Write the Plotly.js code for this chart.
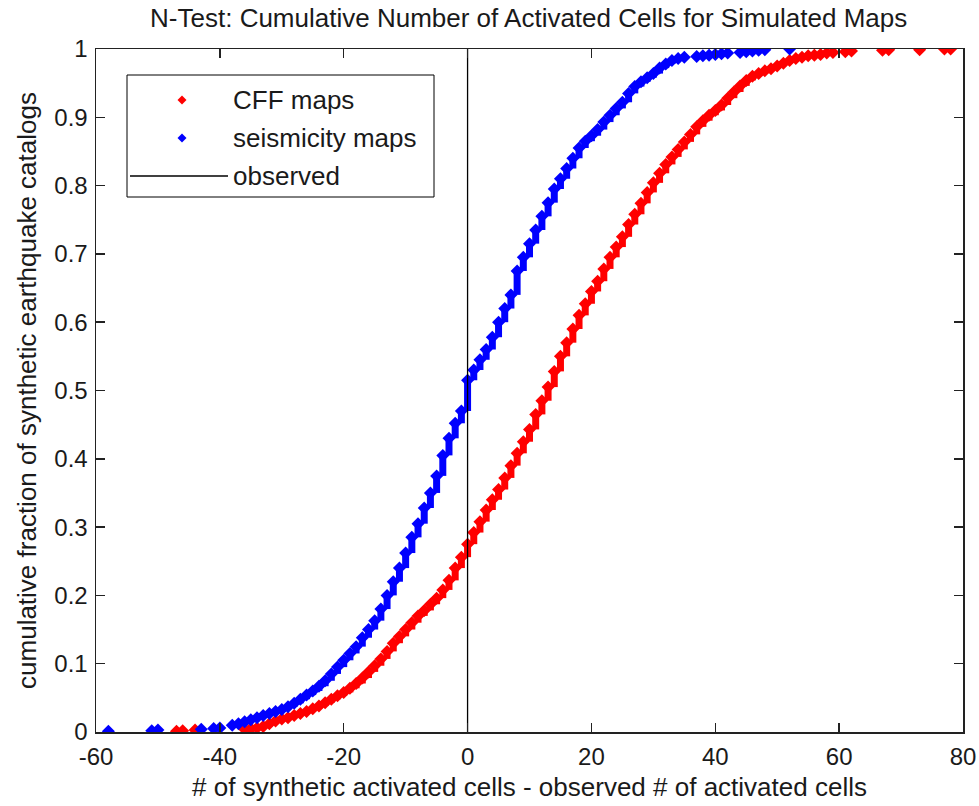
<!DOCTYPE html>
<html>
<head>
<meta charset="utf-8">
<script src="https://cdn.plot.ly/plotly-3.0.1.min.js"></script>
<style>html,body{margin:0;padding:0;background:#fff;}#chart{width:979px;height:806px;}</style>
</head>
<body>
<div id="chart"></div>
<script>
// x: (# synthetic activated cells - observed #); y: cumulative fraction reached at that x
const cffX = [-47,-46,-44,-36,-35,-34,-33,-32,-31,-30,-29,-28,-27,-26,-25,-24,-23,-22,-21,-20,-19,-18,-17,-16,-15,-14,-13,-12,-11,-10,-9,-8,-7,-6,-5,-4,-3,-2,-1,0,1,2,3,4,5,6,7,8,9,10,11,12,13,14,15,16,17,18,19,20,21,22,23,24,25,26,27,28,29,30,31,32,33,34,35,36,37,38,39,40,41,42,43,44,45,46,47,48,49,50,51,52,53,54,55,56,57,58,59,61,62,67,68,73,77,78];
const cffF = [0.001,0.002,0.003,0.004,0.005,0.006,0.008,0.012,0.016,0.019,0.021,0.024,0.027,0.030,0.034,0.038,0.043,0.048,0.053,0.058,0.064,0.071,0.079,0.088,0.097,0.107,0.118,0.130,0.140,0.150,0.160,0.170,0.178,0.187,0.196,0.208,0.222,0.240,0.256,0.275,0.292,0.308,0.325,0.340,0.355,0.372,0.390,0.408,0.425,0.443,0.465,0.485,0.505,0.528,0.550,0.570,0.590,0.610,0.627,0.645,0.660,0.678,0.695,0.710,0.725,0.743,0.758,0.774,0.790,0.804,0.818,0.831,0.842,0.853,0.864,0.875,0.886,0.895,0.903,0.910,0.918,0.928,0.937,0.946,0.954,0.960,0.964,0.968,0.971,0.975,0.979,0.983,0.986,0.988,0.990,0.991,0.992,0.994,0.995,0.996,0.997,0.998,0.999,0.999,1.000,1.000];

const seisX = [-58,-51,-50,-43,-41,-40,-38,-37,-36,-35,-34,-33,-32,-31,-30,-29,-28,-27,-26,-25,-24,-23,-22,-21,-20,-19,-18,-17,-16,-15,-14,-13,-12,-11,-10,-9,-8,-7,-6,-5,-4,-3,-2,-1,0,1,2,3,4,5,6,7,8,9,10,11,12,13,14,15,16,17,18,19,20,21,22,23,24,25,26,27,28,29,30,31,32,33,34,35,37,38,39,40,41,42,44,45,46,47,48,52];
const seisF = [0.001,0.002,0.003,0.004,0.005,0.006,0.010,0.012,0.015,0.018,0.021,0.024,0.027,0.030,0.033,0.037,0.042,0.048,0.054,0.060,0.067,0.075,0.085,0.095,0.105,0.115,0.125,0.138,0.150,0.163,0.180,0.200,0.220,0.240,0.262,0.285,0.305,0.328,0.350,0.375,0.405,0.430,0.452,0.470,0.515,0.530,0.545,0.560,0.578,0.600,0.620,0.640,0.675,0.695,0.715,0.735,0.755,0.775,0.795,0.810,0.825,0.840,0.855,0.865,0.873,0.882,0.893,0.903,0.913,0.922,0.935,0.945,0.952,0.958,0.964,0.972,0.978,0.983,0.986,0.988,0.989,0.990,0.991,0.992,0.993,0.994,0.995,0.996,0.997,0.998,0.999,1.000];

const observedX = [0, 0];
const observedY = [0, 1];

const xTicks = [-60,-40,-20,0,20,40,60,80];
const legendLabels = ['CFF maps', 'seismicity maps', 'observed'];
const RED = '#ff0000', BLUE = '#0000ff';

function steps(f){ return f.map((v,i)=> i===0 ? v : v - f[i-1]); }

const FONT = 'Liberation Sans, Arial, sans-serif';
const TXT = '#1a1a1a';

function cdfTrace(x, f, color){
  return {
    x: x, y: f, type: 'scatter', mode: 'markers', showlegend: false, hoverinfo: 'skip',
    marker: {symbol: 'diamond', size: 10, color: color, line: {width: 0}},
    error_y: {type: 'data', symmetric: false, array: f.map(()=>0), arrayminus: steps(f),
              color: color, thickness: 7, width: 0}
  };
}

const data = [
  cdfTrace(cffX, cffF, RED),
  cdfTrace(seisX, seisF, BLUE),
  {x: observedX, y: observedY, type: 'scatter', mode: 'lines', showlegend: false,
   line: {color: '#000', width: 1.3}, hoverinfo: 'skip'}
];

// manual legend (paper coordinates of the plot area)
const PW = 867, PH = 683;
const px = v => (v - 96) / PW;
const py = v => (732 - v) / PH;
const rowY = [100, 138, 176];
function diamond(cx, cy, r, color){
  const x0 = px(cx), y0 = py(cy), dx = r / PW, dy = r / PH;
  return {type: 'path', xref: 'paper', yref: 'paper', fillcolor: color, line: {width: 0},
          path: `M${x0-dx},${y0} L${x0},${y0+dy} L${x0+dx},${y0} L${x0},${y0-dy} Z`};
}
const shapes = [
  {type: 'rect', xref: 'paper', yref: 'paper', x0: px(127), x1: px(434), y0: py(197), y1: py(75),
   line: {color: '#000', width: 1}, fillcolor: '#fff', layer: 'above'},
  diamond(182, rowY[0], 4.5, RED),
  diamond(182, rowY[1], 4.5, BLUE),
  {type: 'line', xref: 'paper', yref: 'paper', x0: px(130), x1: px(228), y0: py(rowY[2]), y1: py(rowY[2]),
   line: {color: '#000', width: 1.3}}
];
const annotations = legendLabels.map((t, i) => ({
  text: t, xref: 'paper', yref: 'paper', x: px(231), y: py(rowY[i]), xanchor: 'left', yanchor: 'middle',
  showarrow: false, font: {family: FONT, size: 26, color: TXT}
}));

const axisCommon = {
  showgrid: false, zeroline: false, showline: true, linecolor: '#222', linewidth: 1.5,
  mirror: 'ticks', ticks: 'inside', ticklen: 9, tickwidth: 1.5, tickcolor: '#222',
  tickfont: {family: FONT, size: 24, color: TXT}
};

const layout = {
  width: 979, height: 806,
  paper_bgcolor: '#fff', plot_bgcolor: '#fff',
  margin: {l: 96, r: 16, t: 49, b: 74},
  font: {family: FONT, size: 24, color: TXT},
  title: {text: 'N-Test: Cumulative Number of Activated Cells for Simulated Maps',
          font: {family: FONT, size: 26, color: TXT}, x: 0.54, xanchor: 'center', y: 0.978, yanchor: 'middle'},
  xaxis: Object.assign({}, axisCommon, {
    range: [-60, 80], tickmode: 'array', tickvals: xTicks, ticktext: xTicks.map(String),
    ticklabelstandoff: 3,
    title: {text: '# of synthetic activated cells - observed # of activated cells',
            font: {family: FONT, size: 26, color: TXT}, standoff: 8}
  }),
  yaxis: Object.assign({}, axisCommon, {
    range: [0, 1], dtick: 0.1, tick0: 0,
    ticklabelstandoff: 2,
    title: {text: 'cumulative fraction of synthetic earthquake catalogs',
            font: {family: FONT, size: 26, color: TXT}, standoff: 10}
  }),
  showlegend: false,
  shapes: shapes,
  annotations: annotations
};

Plotly.newPlot('chart', data, layout, {displayModeBar: false, staticPlot: true});
</script>
</body>
</html>
